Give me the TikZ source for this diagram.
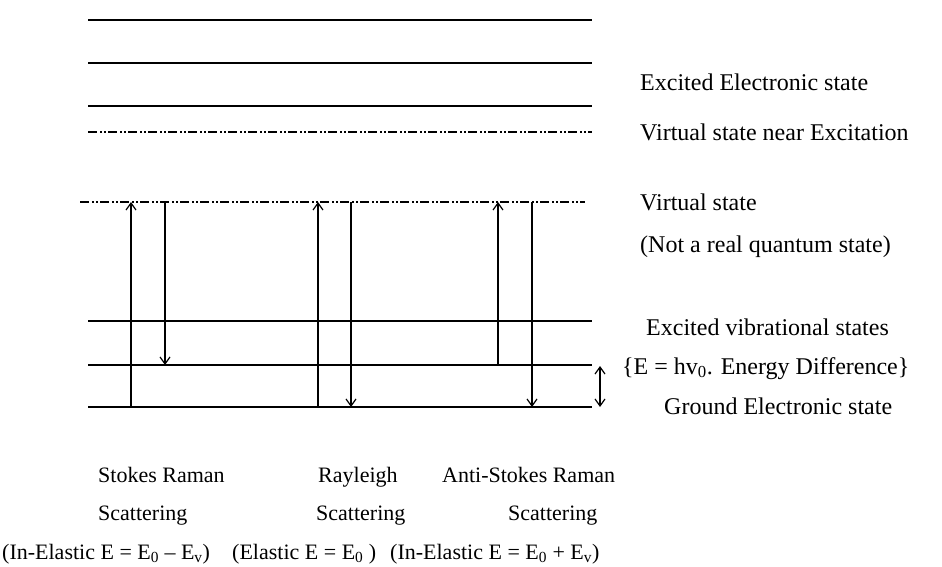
\documentclass[tikz,border=0pt]{standalone}
\usepackage{fontspec}
\setmainfont{Liberation Serif}
\usetikzlibrary{arrows.meta}
\begin{document}
\begin{tikzpicture}[x=1pt,y=-1pt,
  level/.style={line width=1.8pt},
  virt/.style={line width=1.6pt,dash pattern=on 9pt off 3pt on 2pt off 2pt on 2pt off 2pt},
  trans/.style={line width=1.4pt,-{Straight Barb[length=7pt,width=10pt,line width=1.2pt]}},
  both/.style={line width=1.4pt,{Straight Barb[length=7pt,width=10pt,line width=1.2pt]}-{Straight Barb[length=7pt,width=10pt,line width=1.2pt]}},
  lbl/.style={font=\fontsize{24}{28}\selectfont,inner sep=0pt,anchor=base west},
  blbl/.style={font=\fontsize{22}{26}\selectfont,inner sep=0pt,anchor=base west}]
\path[use as bounding box] (0,0) rectangle (942,567);
% levels
\draw[level] (88,20) -- (592,20);
\draw[level] (88,63) -- (592,63);
\draw[level] (88,106) -- (592,106);
\draw[virt] (88,132) -- (592,132);
\draw[virt] (80,202) -- (585,202);
\draw[level] (88,321) -- (592,321);
\draw[level] (88,365) -- (592,365);
\draw[level] (88,407) -- (592,407);
% coordinates
\coordinate (su0) at (131,407); \coordinate (su1) at (131,202);
\coordinate (sd0) at (165,202); \coordinate (sd1) at (165,365);
\coordinate (ru0) at (318,407); \coordinate (ru1) at (318,202);
\coordinate (rd0) at (351,202); \coordinate (rd1) at (351,407);
\coordinate (au0) at (498,365); \coordinate (au1) at (498,202);
\coordinate (ad0) at (532,202); \coordinate (ad1) at (532,407);
\coordinate (e0) at (600,366); \coordinate (e1) at (600,407);
\draw[trans] (su0) -- (su1);
\draw[trans] (sd0) -- (sd1);
\draw[trans] (ru0) -- (ru1);
\draw[trans] (rd0) -- (rd1);
\draw[trans] (au0) -- (au1);
\draw[trans] (ad0) -- (ad1);
\draw[both] (e0) -- (e1);
% right labels
\node[lbl] (l1) at (640,91) {Excited Electronic state};
\node[lbl] (l2) at (640,141) {Virtual state near Excitation};
\node[lbl] (l3) at (640,210) {Virtual state};
\node[lbl] (l4) at (640,252) {(Not a real quantum state)};
\node[lbl] (l5) at (646,335) {Excited vibrational states};
\node[lbl] (l6) at (622,374) {\{E = hv\textsubscript{0}. Energy Difference\}};
\node[lbl] (l7) at (664,414) {Ground Electronic state};
% bottom labels
\node[blbl] (b1) at (98,482) {Stokes Raman};
\node[blbl] (b2) at (98,520) {Scattering};
\node[blbl] (b3) at (2,559) {(In-Elastic E = E\textsubscript{0} -- E\textsubscript{v})};
\node[blbl] (b4) at (318,482) {Rayleigh};
\node[blbl] (b5) at (316,520) {Scattering};
\node[blbl] (b6) at (232,559) {(Elastic E = E\textsubscript{0} )};
\node[blbl] (b7) at (442,482) {Anti-Stokes Raman};
\node[blbl] (b8) at (508,520) {Scattering};
\node[blbl] (b9) at (390,559) {(In-Elastic E = E\textsubscript{0} + E\textsubscript{v})};
\end{tikzpicture}
\end{document}
